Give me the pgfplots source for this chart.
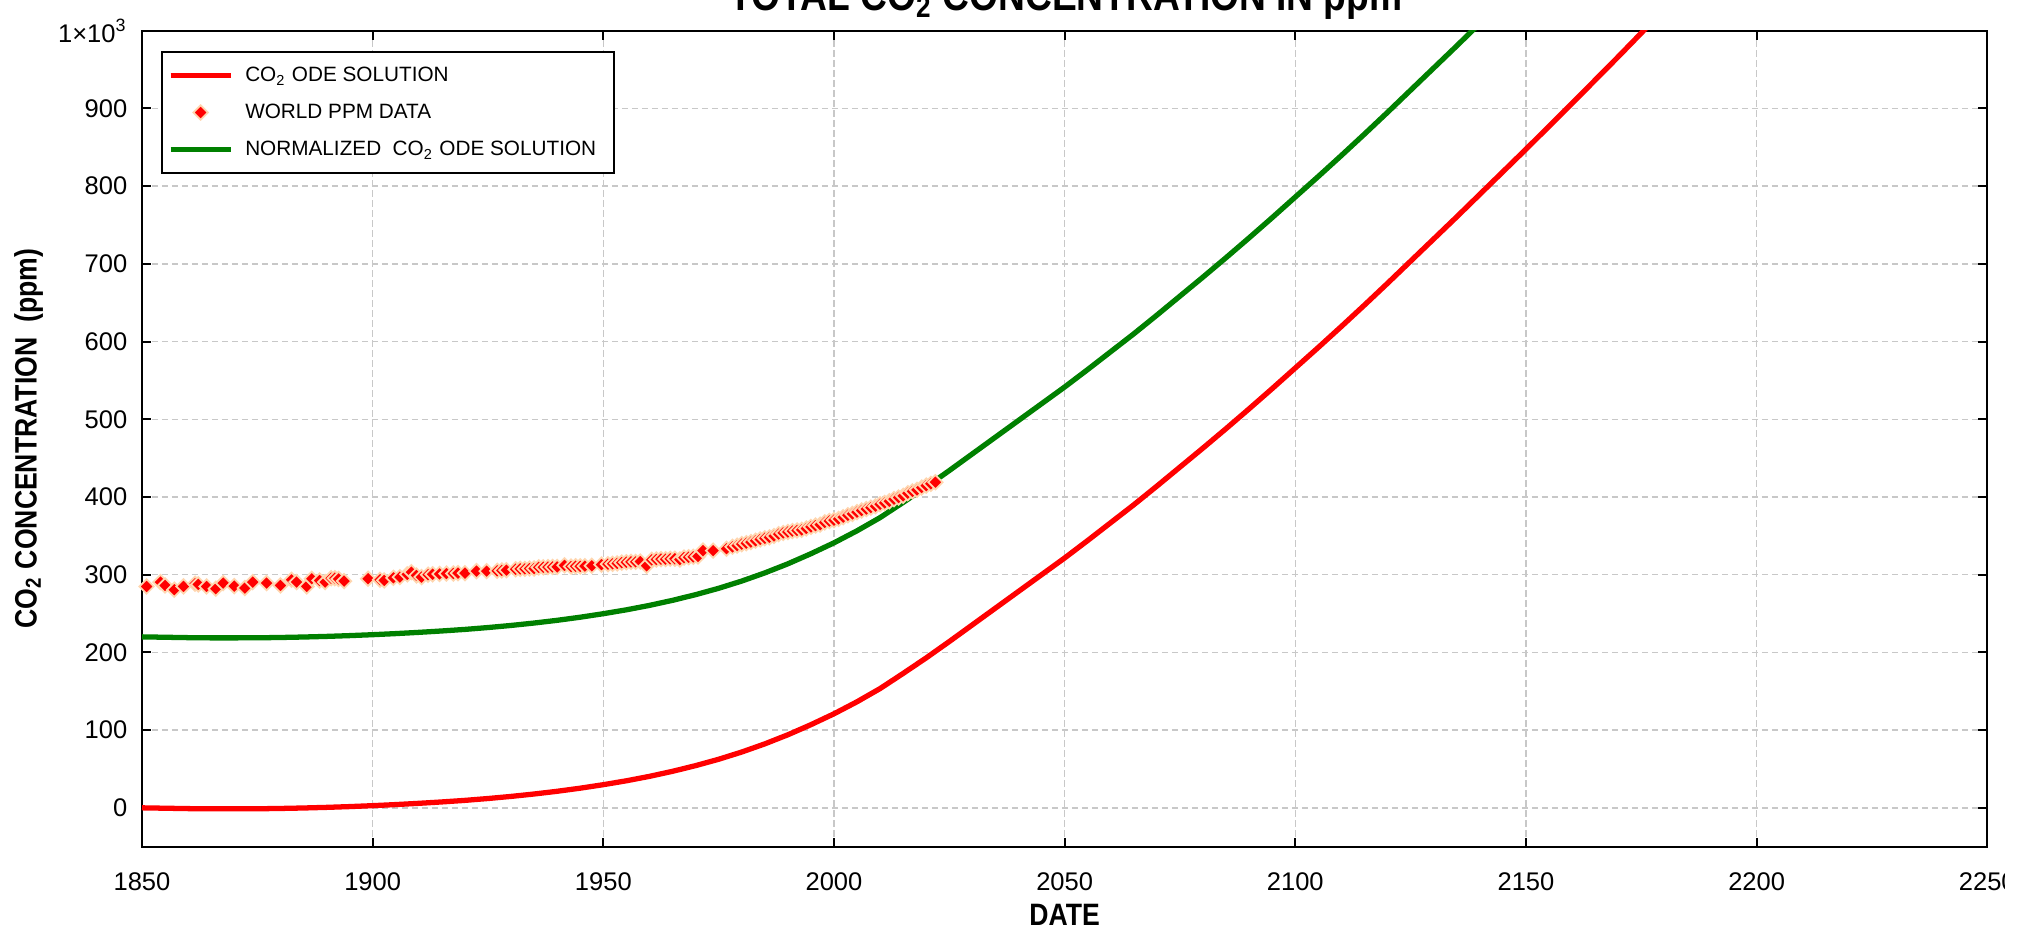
\documentclass[border=0pt]{standalone}
\usepackage{fontspec}
\setmainfont{Liberation Sans}
\newfontfamily\labelfont[FakeStretch=0.86]{Liberation Sans}
\usepackage{pgfplots}
\usepackage{pgfplotstable}
\pgfplotsset{compat=1.18}
\definecolor{odered}{RGB}{255,0,0}
\definecolor{odegreen}{RGB}{0,128,0}
\definecolor{halo}{RGB}{255,214,176}
\definecolor{gridgray}{RGB}{200,200,200}

\pgfplotstableread{
year red green
1850 0 220
1855 -0.5 219.5
1860 -1 219
1865 -1.3 218.7
1870 -1.3 218.7
1875 -1.2 218.8
1880 -0.8 219.2
1885 -0.2 219.8
1890 0.6 220.6
1895 1.6 221.6
1900 2.8 222.8
1905 4.2 224.2
1910 5.8 225.8
1915 7.6 227.6
1920 9.6 229.6
1925 12 232
1930 14.7 234.7
1935 17.8 237.8
1940 21.3 241.3
1945 25.3 245.3
1950 29.8 249.8
1955 34.8 254.8
1960 40.5 260.5
1965 47 267
1970 54.3 274.3
1975 62.5 282.5
1980 71.8 291.8
1985 82.3 302.3
1990 94 314
1995 107 327
2000 121 341
2005 136.5 356.5
2010 153.5 373.5
2015 173 393
2020 193 413
2025 214 434
2030 235.5 455.5
2035 257 477
2040 278.5 498.5
2045 300 520
2050 321.5 541.5
2055 344 564
2060 367 587
2065 390 610
2070 414 634
2075 438.5 658.5
2080 463 683
2085 488 708
2090 513.5 733.5
2095 539.5 759.5
2100 566 786
2105 592.5 812.5
2110 619.5 839.5
2115 647 867
2120 675 895
2125 703.5 923.5
2130 732 952
2135 760.5 980.5
2140 789.5 1009.5
2145 818.5 1038.5
2150 847.5 1067.5
2155 877 1097
2160 906.5 1126.5
2165 936.5 1156.5
2170 966.5 1186.5
2175 997 1217
2180 1028 1248
}\odetable

\pgfplotstableread{
year ppm
1851 284.9
1854 290.5
1855 286.2
1857 280.7
1859 284.9
1861.5 288.4
1862.2 287.5
1864 284.9
1866 282.0
1867.6 289.2
1870 285.3
1872.3 282.8
1874 290.5
1877 289.2
1880 286.2
1882.4 293.5
1883.5 290.5
1885.7 284.9
1886.8 294.8
1888.5 292.5
1889.7 290.5
1891 295.5
1891.8 295.5
1892.6 294.5
1893.8 291.8
1899 294.8
1901.6 293.5
1902.5 292.6
1904.5 296
1905.9 296.9
1907.5 300.5
1908.4 303.3
1909.5 299
1910.6 296.9
1912 300
1913 300.5
1914.5 301
1916 301.5
1917.5 301.5
1918.5 302
1920 302
1922.5 304.6
1924.7 304.6
1927 305
1928 305.5
1929 305.8
1931 307
1932 307.5
1933 307.5
1934 308
1935 308
1936 309.5
1937 309.5
1938 309.8
1939 310
1940 310
1941.6 312
1943 310.5
1944 310.8
1945 310.7
1946 311
1947.5 311.5
1949.6 312.9
1951 313.5
1952 314
1953 314.5
1954 315.5
1955 316
1956 316.5
1957 316.5
1958 317
1959.4 311.5
1960.5 319
1961.5 319.5
1962.5 320
1963.5 320
1964.5 320.5
1965.5 320.5
1966.6 319.5
1967.5 322
1968.5 322.5
1969.5 323
1970.5 323.5
1971.6 331
1973.8 331
1976.7 333.4
1978 335.9
1979 337.4
1980 339.3
1981 340.6
1982 342
1983 343.7
1984 345.4
1985 346.9
1986 348.1
1987 349.8
1988 352.2
1989 353.7
1990 355
1991 356.2
1992 357
1993 357.7
1994 359.5
1995 361.5
1996 363.2
1997 364.4
1998 367.3
1999 369
2000 370.2
2001 371.8
2002 374
2003 376.5
2004 378.2
2005 380.5
2006 382.6
2007 384.5
2008 386.3
2009 388.1
2010 390.6
2011 392.3
2012 394.5
2013 397.2
2014 399.3
2015 401.5
2016 404.9
2017 407.2
2018 409.2
2019 412.1
2020 414.7
2021 416.9
2022 419
}\ppmtable

\begin{document}
\begin{tikzpicture}
\useasboundingbox (0,0) rectangle (202.8mm,93.5mm);
\begin{scope}
\clip (0,0) rectangle (200.4mm,93.5mm);
\node[anchor=base, font=\fontsize{12.3}{14}\labelfont\bfseries] at (106.6mm,92.4mm) {TOTAL CO\textsubscript{2} CONCENTRATION IN ppm};
\begin{axis}[
  at={(14.2mm,8.83mm)}, anchor=south west,
  scale only axis, width=184.53mm, height=81.6mm,
  xmin=1850, xmax=2250, ymin=-50, ymax=1000,
  xtick={1850,1900,1950,2000,2050,2100,2150,2200,2250},
  xticklabels={1850,1900,1950,2000,2050,2100,2150,2200,2250},
  ytick={0,100,200,300,400,500,600,700,800,900,1000},
  yticklabels={0,100,200,300,400,500,600,700,800,900,1×10\textsuperscript{3}},
  tick align=inside,
  major tick length=0.9mm,
  tick style={black, line width=0.57pt},
  axis line style={black, line width=0.57pt},
  grid=major,
  major grid style={gridgray, line width=0.43pt, dash pattern=on 0.65mm off 0.35mm},
  ticklabel style={font=\fontsize{7.26}{8.5}\selectfont},
  yticklabel style={anchor=east, inner sep=0pt, xshift=-1.4mm},
  xticklabel style={anchor=north, inner sep=0pt, yshift=-2.5mm},
  xlabel={DATE},
  xlabel style={font=\fontsize{8.8}{10}\labelfont\bfseries, at={([yshift=-7.93mm]axis description cs:0.5,0)}, anchor=base},
  ylabel={CO\textsubscript{2} CONCENTRATION\ \ (ppm)},
  ylabel style={font=\fontsize{8.8}{10}\labelfont\bfseries, at={([xshift=-10.53mm]axis description cs:0,0.5)}, anchor=base},
  legend style={at={([xshift=1.9mm,yshift=-2.03mm]axis description cs:0,1)}, anchor=north west, draw=black, line width=0.57pt, font=\fontsize{5.9}{7}\selectfont, inner xsep=0.6mm, inner ysep=0.95mm, row sep=0.9mm, nodes={inner xsep=1.2mm, inner ysep=0.5mm, text height=1.5mm, text depth=0.3mm}},
  legend cell align=left,
]
\addplot[odered, line width=1.5pt, no markers] table[x=year, y=red] {\odetable};
\addlegendentry{CO\textsubscript{2} ODE SOLUTION}
\addplot[only marks, mark=square*, mark size=1.45pt, mark options={rotate=45, fill=odered, draw=halo, line width=0.5pt}] table[x=year, y=ppm] {\ppmtable};
\addlegendentry{WORLD PPM DATA}
\addplot[odegreen, line width=1.5pt, no markers] table[x=year, y=green] {\odetable};
\addlegendentry{NORMALIZED\ \ CO\textsubscript{2} ODE SOLUTION}
\end{axis}
\end{scope}
\end{tikzpicture}
\end{document}
